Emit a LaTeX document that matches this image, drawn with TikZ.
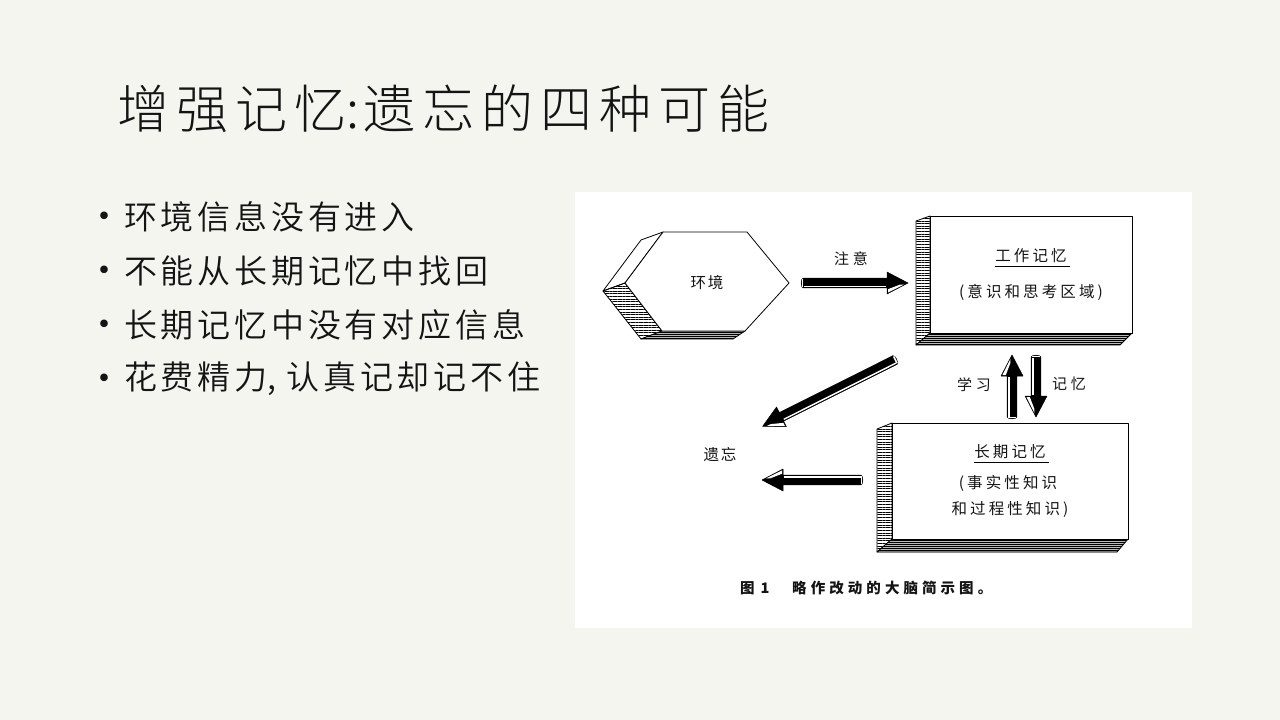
\documentclass[tikz,border=0pt]{standalone}
\usepackage{fontspec}
\setmainfont{Noto Sans CJK SC}
\newfontfamily\lightcjk{Noto Sans CJK SC Light}
\newfontfamily\listcjk{Noto Sans CJK SC DemiLight}
\usetikzlibrary{patterns.meta}
\definecolor{slidebg}{RGB}{245,245,240}
\definecolor{ink}{RGB}{20,20,20}
\newcommand\trk[1]{\addfontfeatures{LetterSpace=#1}}
\tikzset{
  face/.style={draw=black, line width=0.8pt, line join=round},
  sideface/.style={face, pattern={Lines[angle=0,distance=2.6pt,line width=0.55pt]}},
  floorface/.style={face, fill=gray!55, postaction={pattern={Lines[angle=0,distance=2pt,line width=0.5pt]}}},
  frontface/.style={face, fill=white},
  boxtext/.style={font=\fontsize{15.5}{18}\selectfont\trk{20}, text=ink, inner sep=0pt},
  listtext/.style={anchor=west, inner sep=0pt, text=ink, font=\listcjk\fontsize{33}{38}\selectfont\trk{11.5}},
  captext/.style={anchor=west, inner sep=0pt, text=ink, font=\fontsize{14.5}{18}\selectfont\bfseries\trk{28}},
  fatarrow/.pic={
    \filldraw[black, line width=0.5pt, line join=round]
      (0,-4.8) -- (#1-21,-4.8) -- (#1-21,-11) -- (#1,0) -- (#1-21,11) -- (#1-21,4.8) -- (0,4.8)
      arc[start angle=90, end angle=270, x radius=1.8, y radius=4.8] -- cycle;
    \fill[white] (0.5,2.5) -- (#1-22,2.5) -- (#1-22,3.9) -- (0.5,3.9) -- cycle;
    \fill[white] (-1.2,-3.7) -- (-1.2,3.7) -- (0.4,3.7) -- (0.4,-3.7) -- cycle;
    \fill[white] (#1-20,6.2) -- (#1-20,9.6) -- (#1-4,1.6) -- (#1-8,1.6) -- cycle;
  }
}
\begin{document}
\begin{tikzpicture}[x=1pt,y=-1pt]
  \useasboundingbox (0,0) rectangle (1280,720);
  \fill[slidebg] (0,0) rectangle (1280,720);

  % title and bullet list
  \node[anchor=west, inner sep=0pt, text=ink,
        font=\lightcjk\fontsize{52}{58}\selectfont\trk{13.5}] (title) at (117,109)
        {增强记忆\makebox[17pt][l]{:}遗忘的四种可能};
  \foreach \y/\t [count=\i] in {217/环境信息没有进入, 271/不能从长期记忆中找回,
                                325/长期记忆中没有对应信息, 379/{花费精力\makebox[19pt][l]{,}认真记却记不住}} {
    \node[inner sep=0pt, text=ink, font=\fontsize{36}{36}\selectfont] (dot\i) at (104,\y+4) {•};
    \node[listtext] (item\i) at (124,\y) {\t};
  }

  % white panel holding the figure
  \fill[white] (575,192) rectangle (1192,628);

  % environment: extruded hexagon
  \coordinate (eTL) at (663,232); \coordinate (eTR) at (747,232);
  \coordinate (eR) at (789,283);  \coordinate (eBR) at (745,331);
  \coordinate (eBL) at (662,331); \coordinate (eL) at (625,283);
  \coordinate (eTLb) at (641,240); \coordinate (eLb) at (603,291);
  \coordinate (eBLb) at (641,339); \coordinate (eBRb) at (733,339);
  \filldraw[frontface] (eTL) -- (eTLb) -- (eLb) -- (eL) -- cycle;
  \draw[sideface] (eL) -- (eLb) -- (eBLb) -- (eBL) -- cycle;
  \draw[floorface] (eBL) -- (eBLb) -- (eBRb) -- (eBR) -- cycle;
  \filldraw[frontface] (eTL) -- (eTR) -- (eR) -- (eBR) -- (eBL) -- (eL) -- cycle;
  \node[boxtext, font=\fontsize{15.5}{18}\selectfont\trk{10}] (env) at (707,283) {环境};

  % working memory box
  \draw[sideface] (930,216) -- (916,221) -- (916,345) -- (930,333) -- cycle;
  \draw[floorface] (930,333) -- (1132,333) -- (1120,345) -- (916,345) -- cycle;
  \filldraw[frontface] (930,216) rectangle (1132,333);
  \node[boxtext] (wm) at (1031,256) {工作记忆};
  \draw[black, line width=0.6pt] (wm.south west) ++(0,3) -- ++(75,0);
  \node[boxtext] (wmsub) at (1031,292) {(意识和思考区域)};

  % long-term memory box
  \draw[sideface] (892,423) -- (877,429) -- (877,552) -- (892,539) -- cycle;
  \draw[floorface] (892,539) -- (1128,539) -- (1117,552) -- (877,552) -- cycle;
  \filldraw[frontface] (892,423) rectangle (1128,539);
  \node[boxtext] (ltm) at (1010,452) {长期记忆};
  \draw[black, line width=0.6pt] (ltm.south west) ++(0,3) -- ++(75,0);
  \node[boxtext] (ltmsub1) at (1008,483) {(事实性知识};
  \node[boxtext] (ltmsub2) at (1010,509) {和过程性知识)};

  % forgetting
  \node[boxtext, font=\fontsize{15.5}{18}\selectfont\trk{10}] (forget) at (720,455) {遗忘};

  % arrows between the stages
  \coordinate (attTail) at (803,283);
  \coordinate (diagTail) at (895,360);
  \coordinate (learnTail) at (1012,417);
  \coordinate (recallTail) at (1036,357);
  \coordinate (lossTail) at (861,480);
  \pic[rotate=0] at (attTail) {fatarrow=105};
  \pic[rotate=206.6, yscale=-1] at (diagTail) {fatarrow=148};
  \pic[rotate=90, yscale=-1] at (learnTail) {fatarrow=62};
  \pic[rotate=270] at (recallTail) {fatarrow=60};
  \pic[rotate=180] at (lossTail) {fatarrow=99};

  \node[boxtext, font=\fontsize{15}{18}\selectfont\trk{25}] (att) at (851,259) {注意};
  \node[boxtext, font=\fontsize{15}{18}\selectfont\trk{25}] (learn) at (974,385) {学习};
  \node[boxtext, font=\fontsize{15}{18}\selectfont\trk{25}] (recall) at (1069,384) {记忆};

  % caption
  \node[captext, font=\fontsize{14.5}{18}\selectfont\bfseries\trk{18}] (fignum) at (740,588) {图 1};
  \node[captext] (caption) at (792,588) {略作改动的大脑简示图。};
\end{tikzpicture}
\end{document}
